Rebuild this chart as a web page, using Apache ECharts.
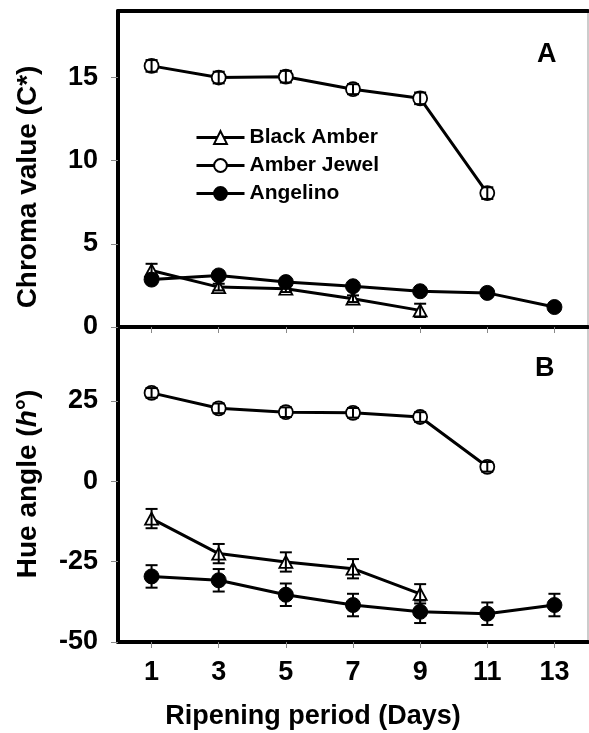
<!DOCTYPE html>
<html>
<head>
<meta charset="utf-8">
<script src="https://cdn.jsdelivr.net/npm/echarts@6/dist/echarts.min.js"></script>
<style>html,body{margin:0;padding:0;background:#fff;}#c{width:589px;height:733px;}</style>
</head>
<body>
<div id="c"></div>
<script>
// ---- data ----
const dayTicks = [1, 3, 5, 7, 9, 11, 13];
const daysBlackAmber = [1, 3, 5, 7, 9];
const daysAmberJewel = [1, 3, 5, 7, 9, 11];
const daysAngelino = [1, 3, 5, 7, 9, 11, 13];

const chromaBlackAmber = [3.4, 2.4, 2.3, 1.7, 1.0];
const chromaBlackAmberErr = [0.4, 0.2, 0.2, 0.2, 0.4];
const chromaAmberJewel = [15.7, 15.0, 15.05, 14.3, 13.75, 8.05];
const chromaAmberJewelErr = [0.35, 0.35, 0.35, 0.3, 0.35, 0.35];
const chromaAngelino = [2.85, 3.1, 2.7, 2.45, 2.15, 2.05, 1.2];
const chromaAngelinoErr = [0.2, 0.2, 0.2, 0.2, 0.2, 0.2, 0.2];

const hueBlackAmber = [-11.6, -22.5, -25.1, -27.2, -35.0];
const hueBlackAmberErr = [3.0, 3.0, 3.0, 3.0, 3.0];
const hueAmberJewel = [27.5, 22.7, 21.5, 21.3, 20.0, 4.5];
const hueAmberJewelErr = [1.5, 1.5, 1.5, 1.5, 1.5, 1.5];
const hueAngelino = [-29.6, -30.8, -35.3, -38.5, -40.6, -41.2, -38.5];
const hueAngelinoErr = [3.5, 3.5, 3.5, 3.5, 3.5, 3.5, 3.5];

const chromaTicks = [0, 5, 10, 15];
const hueTicks = [-50, -25, 0, 25];

const seriesNames = ['Black Amber', 'Amber Jewel', 'Angelino'];

// ---- chart ----
const FONT = 'Liberation Sans, Arial, sans-serif';
const chart = echarts.init(document.getElementById('c'), null, {renderer: 'canvas'});

function pairs(xs, ys) { return xs.map((x, i) => [x, ys[i]]); }
function errData(xs, ys, es) { return xs.map((x, i) => [x, ys[i] - es[i], ys[i] + es[i]]); }

const styles = {
  'Black Amber': {symbol: 'triangle', symbolSize: [13, 12], itemStyle: {color: '#fff', borderColor: '#000', borderWidth: 1.8}},
  'Amber Jewel': {symbol: 'circle', symbolSize: 14, itemStyle: {color: '#fff', borderColor: '#000', borderWidth: 1.8}},
  'Angelino': {symbol: 'circle', symbolSize: 15, itemStyle: {color: '#000', borderColor: '#000', borderWidth: 1}}
};

function lineSeries(name, xs, ys, idx) {
  return Object.assign({
    type: 'line', name: name, xAxisIndex: idx, yAxisIndex: idx,
    data: pairs(xs, ys), showAllSymbol: true,
    lineStyle: {color: '#000', width: 3}, z: 3, animation: false
  }, styles[name]);
}

function errSeries(xs, ys, es, idx) {
  return {
    type: 'custom', xAxisIndex: idx, yAxisIndex: idx, z: 6, animation: false,
    data: errData(xs, ys, es),
    encode: {x: 0, y: [1, 2]},
    renderItem: function (params, api) {
      const x = api.value(0);
      const lo = api.coord([x, api.value(1)]);
      const hi = api.coord([x, api.value(2)]);
      const hw = 6;
      const st = {stroke: '#000', lineWidth: 2};
      return {type: 'group', children: [
        {type: 'line', shape: {x1: lo[0], y1: lo[1], x2: hi[0], y2: hi[1]}, style: st},
        {type: 'line', shape: {x1: lo[0] - hw, y1: lo[1], x2: lo[0] + hw, y2: lo[1]}, style: st},
        {type: 'line', shape: {x1: hi[0] - hw, y1: hi[1], x2: hi[0] + hw, y2: hi[1]}, style: st}
      ]};
    }
  };
}

const gridL = 118, gridW = 470;

function xAxisBase(gi, withLabels) {
  return {
    type: 'value', gridIndex: gi, min: 0, max: 14,
    axisLine: {show: true, onZero: false, lineStyle: {color: '#000', width: 4}},
    axisTick: {show: true, customValues: dayTicks, length: 6, lineStyle: {color: '#888', width: 1}},
    axisLabel: withLabels ? {show: true, customValues: dayTicks, margin: 17, fontSize: 27, fontWeight: 'bold', color: '#000', fontFamily: FONT} : {show: false},
    splitLine: {show: false}
  };
}
function topBorderAxis(gi) {
  return {
    type: 'value', gridIndex: gi, position: 'top', min: 0, max: 14,
    axisLine: {show: true, onZero: false, lineStyle: {color: '#000', width: 4}},
    axisTick: {show: false}, axisLabel: {show: false}, splitLine: {show: false}
  };
}
function yAxisBase(gi, min, max, ticks) {
  return {
    type: 'value', gridIndex: gi, min: min, max: max, interval: 25,
    axisLine: {show: true, onZero: false, lineStyle: {color: '#000', width: 4}},
    axisTick: {show: true, customValues: ticks, length: 7, lineStyle: {color: '#888', width: 1}},
    axisLabel: {show: true, customValues: ticks, margin: 20, fontSize: 27, fontWeight: 'bold', color: '#000', fontFamily: FONT},
    splitLine: {show: false}
  };
}

const option = {
  backgroundColor: '#fff',
  animation: false,
  grid: [
    {left: gridL, top: 11, width: gridW, height: 316, show: true, borderColor: '#999', borderWidth: 1, backgroundColor: 'transparent'},
    {left: gridL, top: 327, width: gridW, height: 315, show: true, borderColor: '#999', borderWidth: 1, backgroundColor: 'transparent'}
  ],
  xAxis: [xAxisBase(0, false), xAxisBase(1, true), topBorderAxis(0)],
  yAxis: [yAxisBase(0, 0, 19, chromaTicks), yAxisBase(1, -50, 48, hueTicks)],
  legend: {
    data: seriesNames, orient: 'vertical', left: 195, top: 127,
    itemWidth: 48, itemHeight: 16, itemGap: 7, padding: 0,
    lineStyle: {color: '#000', width: 3},
    textStyle: {fontSize: 21, fontWeight: 'bold', color: '#000', fontFamily: FONT, padding: [0, 0, 0, 0]}
  },
  graphic: [
    {type: 'text', left: 537, top: 41, style: {text: 'A', fontSize: 27, fontWeight: 'bold', fill: '#000', fontFamily: FONT}},
    {type: 'text', left: 535, top: 355, style: {text: 'B', fontSize: 27, fontWeight: 'bold', fill: '#000', fontFamily: FONT}},
    {type: 'text', x: 28, y: 187, rotation: Math.PI / 2,
      style: {text: 'Chroma value (C*)', fontSize: 28, fontWeight: 'bold', fill: '#000', fontFamily: FONT, align: 'center', verticalAlign: 'middle'}},
    {type: 'text', x: 28, y: 484, rotation: Math.PI / 2,
      style: {text: '{n|Hue angle (}{i|h}{n|°)}', align: 'center', verticalAlign: 'middle', fill: '#000',
        rich: {n: {fontSize: 28, fontWeight: 'bold', fontFamily: FONT}, i: {fontSize: 28, fontWeight: 'bold', fontStyle: 'italic', fontFamily: FONT}}}},
    {type: 'text', x: 313, y: 717,
      style: {text: 'Ripening period (Days)', fontSize: 27, fontWeight: 'bold', fill: '#000', fontFamily: FONT, align: 'center', verticalAlign: 'middle'}}
  ],
  series: [
    lineSeries('Black Amber', daysBlackAmber, chromaBlackAmber, 0),
    lineSeries('Amber Jewel', daysAmberJewel, chromaAmberJewel, 0),
    lineSeries('Angelino', daysAngelino, chromaAngelino, 0),
    errSeries(daysBlackAmber, chromaBlackAmber, chromaBlackAmberErr, 0),
    errSeries(daysAmberJewel, chromaAmberJewel, chromaAmberJewelErr, 0),
    errSeries(daysAngelino, chromaAngelino, chromaAngelinoErr, 0),
    lineSeries('Black Amber', daysBlackAmber, hueBlackAmber, 1),
    lineSeries('Amber Jewel', daysAmberJewel, hueAmberJewel, 1),
    lineSeries('Angelino', daysAngelino, hueAngelino, 1),
    errSeries(daysBlackAmber, hueBlackAmber, hueBlackAmberErr, 1),
    errSeries(daysAmberJewel, hueAmberJewel, hueAmberJewelErr, 1),
    errSeries(daysAngelino, hueAngelino, hueAngelinoErr, 1)
  ]
};
chart.setOption(option);
</script>
</body>
</html>
